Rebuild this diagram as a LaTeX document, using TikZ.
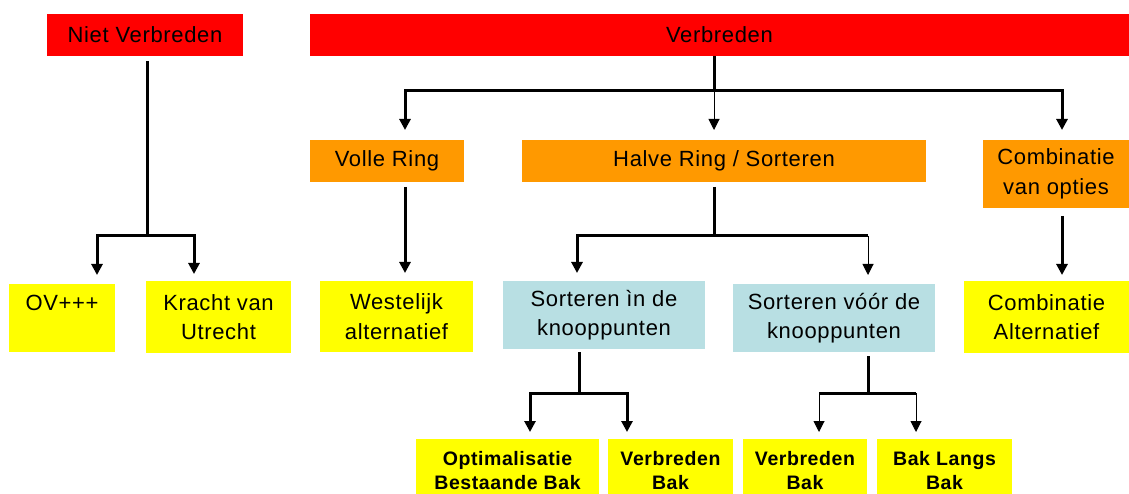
\documentclass[tikz,border=0pt]{standalone}
\usepackage{fontspec}
\setmainfont[LetterSpace=3]{Liberation Sans}
\usetikzlibrary{arrows.meta}
\definecolor{cred}{RGB}{255,0,0}
\definecolor{corange}{RGB}{255,153,0}
\definecolor{cyellow}{RGB}{255,255,0}
\definecolor{cblue}{RGB}{184,223,227}
\begin{document}
\begin{tikzpicture}[x=1pt,y=-1pt,
  box/.style={rectangle, inner sep=0pt, outer sep=0pt, anchor=north west, align=center,
    font=\fontsize{22}{29.5}\selectfont},
  redbox/.style={box, fill=cred},
  orbox/.style={box, fill=corange},
  yelbox/.style={box, fill=cyellow},
  bluebox/.style={box, fill=cblue},
  boldbox/.style={box, fill=cyellow, font=\fontsize{19.5}{24}\selectfont\bfseries},
  thk/.style={line width=3pt, line join=miter},
  thn/.style={line width=1pt},
  tip/.style={-{Triangle[width=11pt,length=11pt]}}
]
\clip (0,0) rectangle (1129,494);
\fill[white] (0,0) rectangle (1129,494);

% top level
\node[redbox, minimum width=196pt, minimum height=42pt] (nv) at (47,14) {Niet Verbreden};
\node[redbox, minimum width=819pt, minimum height=42pt] (vb) at (310,14) {Verbreden};

% second level
\node[orbox, minimum width=154pt, minimum height=42pt] (vr) at (310,140) {Volle Ring};
\node[orbox, minimum width=404pt, minimum height=42pt] (hr) at (522,140) {Halve Ring / Sorteren};
\node[orbox, minimum width=146pt, minimum height=68pt] (co) at (983,140) {Combinatie\\van opties};

% third level
\node[yelbox, minimum width=106pt, minimum height=68pt] (ov) at (9,284) {OV+++\\\vphantom{Utrecht}};
\node[yelbox, minimum width=145pt, minimum height=72pt] (kr) at (146,281) {Kracht van\\Utrecht};
\node[yelbox, minimum width=153pt, minimum height=71pt] (we) at (320,281) {Westelijk\\alternatief};
\node[bluebox, minimum width=202pt, minimum height=68pt] (si) at (503,281) {Sorteren ìn de\\knooppunten};
\node[bluebox, minimum width=202pt, minimum height=68pt] (sv) at (733,284) {Sorteren vóór de\\knooppunten};
\node[yelbox, minimum width=165pt, minimum height=72pt] (ca) at (964,281) {Combinatie\\Alternatief};

% bottom level
\node[boldbox, minimum width=183pt, minimum height=63pt] (ob) at (416,439) {Optimalisatie\\Bestaande Bak};
\node[boldbox, minimum width=125pt, minimum height=63pt] (vb1) at (608,439) {Verbreden\\Bak};
\node[boldbox, minimum width=124pt, minimum height=63pt] (vb2) at (743,439) {Verbreden\\Bak};
\node[boldbox, minimum width=135pt, minimum height=63pt] (bl) at (877,439) {Bak Langs\\Bak};

% junctions
\coordinate (j1) at (147,236); \coordinate (j1l) at (97,236); \coordinate (j1r) at (194,236);
\coordinate (j2) at (714,91); \coordinate (j2l) at (405,91); \coordinate (j2r) at (1062,91);
\coordinate (j3) at (714,236); \coordinate (j3l) at (577,236); \coordinate (j3r) at (868,236);
\coordinate (j4) at (579,393); \coordinate (j4l) at (530,393); \coordinate (j4r) at (627,393);
\coordinate (j5) at (868,393); \coordinate (j5l) at (819,393); \coordinate (j5r) at (916,393);

% Niet Verbreden
\draw[thk, shorten <=5pt] (nv.south -| j1) -- (j1);
\draw[thk, tip, shorten >=9pt] (j1) -- (j1l) -- (j1l |- ov.north);
\draw[thk, tip, shorten >=7pt] (j1) -- (j1r) -- (j1r |- kr.north);

% Verbreden
\draw[thk] (vb.south -| j2) -- (j2);
\draw[thk, tip, shorten >=10pt] (j2) -- (j2l) -- (j2l |- vr.north);
\draw[thk, tip, shorten >=10pt] (j2) -- (j2r) -- (j2r |- co.north);
\draw[thn, tip, shorten >=10pt] (j2) -- (j2 |- hr.north);

% Volle Ring
\draw[thk, tip, shorten <=5pt, shorten >=8pt] (vr.south -| j2l) -- (j2l |- we.north);

% Halve Ring
\draw[thk, shorten <=5pt] (hr.south -| j3) -- (j3);
\draw[thk, tip, shorten >=8pt] (j3) -- (j3l) -- (j3l |- si.north);
\draw[thk] (j3) -- (j3r);
\draw[thn, tip, shorten >=9pt] (j3r) -- (j3r |- sv.north);

% Combinatie
\draw[thk, tip, shorten <=8pt, shorten >=6pt] (co.south -| j2r) -- (j2r |- ca.north);

% Sorteren in
\draw[thk, shorten <=3pt] (si.south -| j4) -- (j4);
\draw[thk, tip, shorten >=7pt] (j4) -- (j4l) -- (j4l |- ob.north);
\draw[thk, tip, shorten >=7pt] (j4) -- (j4r) -- (j4r |- vb1.north);

% Sorteren voor
\draw[thk, shorten <=4pt] (sv.south -| j5) -- (j5);
\draw[thk] (j5l) -- (j5r);
\draw[thn, tip, shorten >=7pt] (j5l) -- (j5l |- vb2.north);
\draw[thn, tip, shorten >=7pt] (j5r) -- (j5r |- bl.north);
\end{tikzpicture}
\end{document}
